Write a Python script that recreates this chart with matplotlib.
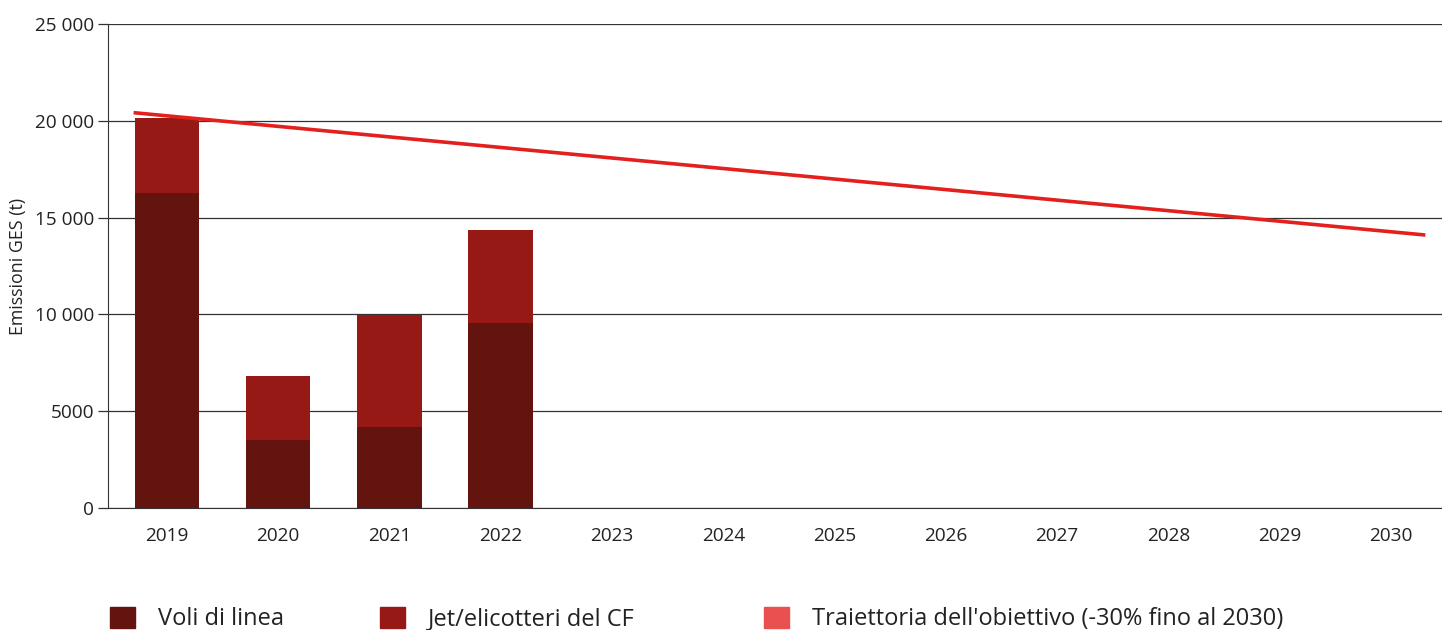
import numpy as np
import matplotlib.pyplot as plt
from matplotlib.patches import Patch
from matplotlib.ticker import FuncFormatter

plt.rcParams['font.family'] = ['Open Sans', 'DejaVu Sans']

# Data
years = ['2019', '2020', '2021', '2022', '2023', '2024', '2025', '2026', '2027', '2028', '2029', '2030']
voli_linea = [16270, 3510, 4180, 9560]
jet_cf = [3860, 3310, 5790, 4800]
target_start = 20420
target_end = 14100

c_dark = '#63140F'
c_mid = '#971915'
c_line = '#E3201E'
c_leg = '#E95050'

x = np.arange(len(years))
xb = x[:len(voli_linea)]

fig = plt.figure(figsize=(14.42, 6.3), dpi=100)
ax = fig.add_axes([108 / 1442, 1 - 508 / 630, (1442 - 108) / 1442, 484 / 630])

ax.bar(xb, voli_linea, width=0.58, color=c_dark, zorder=3)
ax.bar(xb, jet_cf, width=0.58, bottom=voli_linea, color=c_mid, zorder=3)
# target line runs from left edge of first bar to past the last category
ax.plot([x[0] - 0.3, x[-1] + 0.31], [target_start, target_end], color=c_line, lw=2.6, zorder=4,
        solid_capstyle='butt')

ax.set_xlim(-0.53, 11.46)
ax.set_ylim(0, 25000)
ax.set_yticks(np.arange(0, 25001, 5000))
ax.yaxis.set_major_formatter(FuncFormatter(
    lambda v, p: f'{int(v):,}'.replace(',', ' ') if v >= 10000 else f'{int(v)}'))
ax.set_xticks(x)
ax.set_xticklabels(years)
ax.grid(axis='y', color='#333333', lw=0.9, zorder=0)
for s in ['top', 'right']:
    ax.spines[s].set_visible(False)
ax.spines['left'].set_color('#333333')
ax.spines['bottom'].set_color('#333333')
ax.tick_params(axis='y', length=7, width=0.9, color='#333333', labelsize=13.7, labelcolor='#222222', pad=3)
ax.tick_params(axis='x', length=0, labelsize=13.7, labelcolor='#222222', pad=14)
ax.set_ylabel('Emissioni GES (t)', fontsize=12.8, color='#222222', labelpad=6)

labels = ['Voli di linea', 'Jet/elicotteri del CF', "Traiettoria dell'obiettivo (-30% fino al 2030)"]
colors = [c_dark, c_mid, c_leg]
lx = [108, 378, 762]
for l, c, px in zip(labels, colors, lx):
    fig.legend(handles=[Patch(color=c)], labels=[l], loc='lower left',
               bbox_to_anchor=(px / 1442, -0.006), frameon=False, fontsize=17,
               handlelength=1.05, handleheight=1.0, handletextpad=0.95, borderaxespad=0.0,
               borderpad=0.1, labelcolor='#222222')

fig.savefig('out.png', dpi=100)
